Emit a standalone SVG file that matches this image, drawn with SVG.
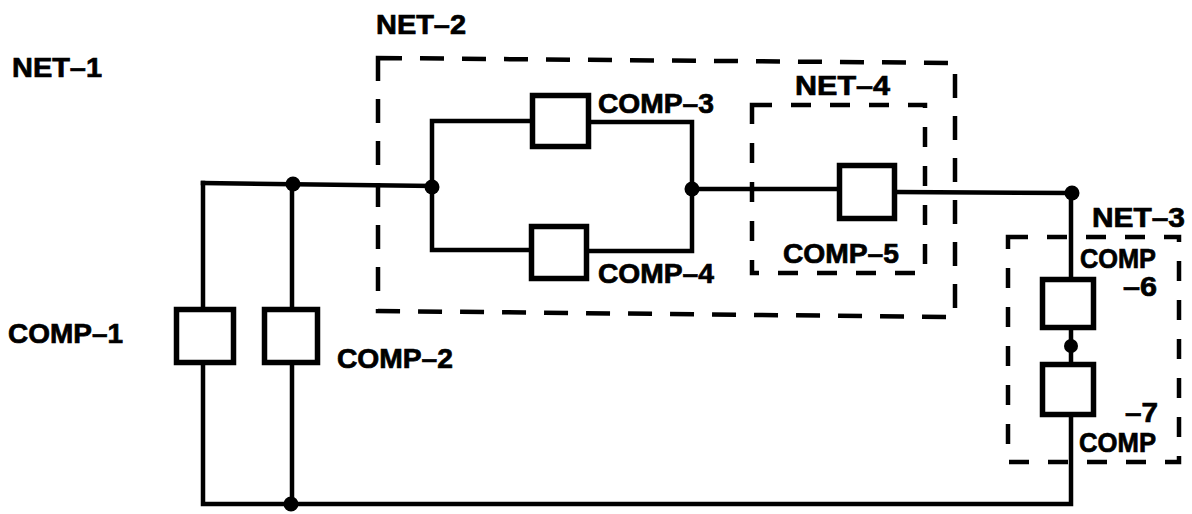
<svg xmlns="http://www.w3.org/2000/svg" width="1192" height="514" viewBox="0 0 1192 514">
<style>
.bg{fill:#fff}
.w{fill:none;stroke:#000;stroke-width:4.5;stroke-linecap:square}
.box{fill:#fff;stroke:#000;stroke-width:5.5}
.net{fill:none;stroke:#000;stroke-width:4.5;stroke-dasharray:24 18}
.net4{fill:none;stroke:#000;stroke-width:4.5;stroke-dasharray:20 19}
.dot{fill:#000}
text{font-family:"Liberation Sans",Arial,sans-serif;font-weight:bold;font-size:27px;fill:#000;stroke:#000;stroke-width:0.7}
</style>
<rect class="bg" x="0" y="0" width="1192" height="514"/>
<g id="connectors">
<path class="w" d="M203,183 L432,186"/>
<path class="w" d="M203,183 V307 M203,365 V504 H1071 V417"/>
<path class="w" d="M292,184 V307 M292,365 V504"/>
<path class="w" d="M432,186 V121 H530 M432,186 V250 H529"/>
<path class="w" d="M591,122 H692 V251 H589"/>
<path class="w" d="M692,189 H837"/>
<path class="w" d="M897,192 L1071,193 V277"/>
<path class="w" d="M1071,330 V362"/>
</g>
<g id="net-2">
<path class="net" d="M378,58 L955,63 L955,317 L378,311 Z"/>
<text x="376" y="34" textLength="90" lengthAdjust="spacingAndGlyphs">NET–2</text>
</g>
<g id="net-4">
<path class="net4" d="M752,105 H925 V273 H752 Z"/>
<text x="795" y="95" textLength="95" lengthAdjust="spacingAndGlyphs">NET–4</text>
</g>
<g id="net-3">
<path class="net4" d="M1008,237 H1179 V462 H1008 Z"/>
<text x="1092" y="227" textLength="93" lengthAdjust="spacingAndGlyphs">NET–3</text>
</g>
<g id="net-1">
<text x="12" y="77" textLength="90" lengthAdjust="spacingAndGlyphs">NET–1</text>
</g>
<g id="comp-1">
<rect class="box" x="176.5" y="309.5" width="57" height="53"/>
<text x="8" y="343" textLength="115" lengthAdjust="spacingAndGlyphs">COMP–1</text>
</g>
<g id="comp-2">
<rect class="box" x="264.5" y="309.5" width="53" height="53"/>
<text x="337" y="368" textLength="116" lengthAdjust="spacingAndGlyphs">COMP–2</text>
</g>
<g id="comp-3">
<rect class="box" x="532.5" y="95.5" width="56" height="51"/>
<text x="598" y="113" textLength="116" lengthAdjust="spacingAndGlyphs">COMP–3</text>
</g>
<g id="comp-4">
<rect class="box" x="531.5" y="226.5" width="55" height="52"/>
<text x="598" y="283" textLength="116" lengthAdjust="spacingAndGlyphs">COMP–4</text>
</g>
<g id="comp-5">
<rect class="box" x="839.5" y="165.5" width="55" height="53"/>
<text x="783" y="263" textLength="116" lengthAdjust="spacingAndGlyphs">COMP–5</text>
</g>
<g id="comp-6">
<rect class="box" x="1042.5" y="279.5" width="51" height="48"/>
<text x="1080" y="268" textLength="76" lengthAdjust="spacingAndGlyphs">COMP</text>
<text x="1123" y="296" textLength="34" lengthAdjust="spacingAndGlyphs">–6</text>
</g>
<g id="comp-7">
<rect class="box" x="1042.5" y="364.5" width="51" height="50"/>
<text x="1125" y="422" textLength="33" lengthAdjust="spacingAndGlyphs">–7</text>
<text x="1079" y="452" textLength="77" lengthAdjust="spacingAndGlyphs">COMP</text>
</g>
<g id="junctions">
<circle class="dot" cx="293" cy="184" r="7.5"/>
<circle class="dot" cx="432" cy="187" r="7.5"/>
<circle class="dot" cx="692" cy="189" r="7.5"/>
<circle class="dot" cx="1072" cy="193" r="7.5"/>
<circle class="dot" cx="1071" cy="346" r="7"/>
<circle class="dot" cx="291" cy="504" r="7.5"/>
</g>
</svg>
